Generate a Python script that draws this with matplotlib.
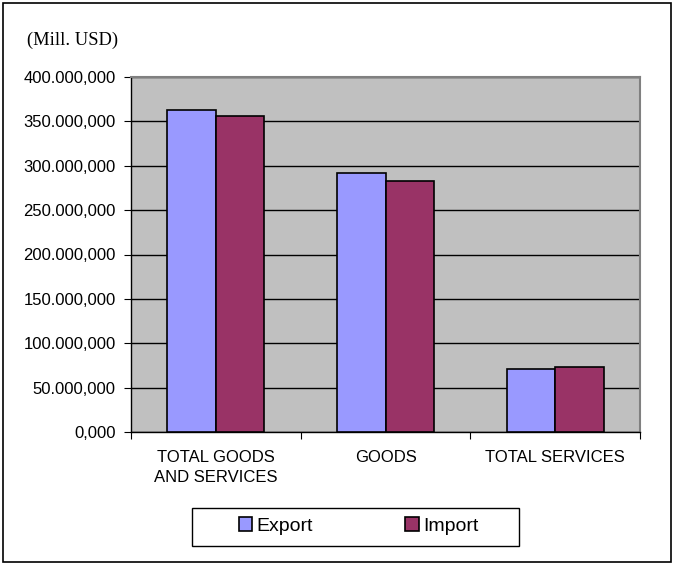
import matplotlib
matplotlib.use("Agg")
import matplotlib.pyplot as plt
import numpy as np
from matplotlib.patches import Rectangle

categories = ["TOTAL GOODS\nAND SERVICES", "GOODS", "TOTAL SERVICES"]
export_vals = [362.8e6, 291.5e6, 70.6e6]
import_vals = [356.4e6, 282.8e6, 72.9e6]
y_ticks = [0, 50e6, 100e6, 150e6, 200e6, 250e6, 300e6, 350e6, 400e6]
y_tick_labels = ["0,000", "50.000,000", "100.000,000", "150.000,000", "200.000,000",
                 "250.000,000", "300.000,000", "350.000,000", "400.000,000"]

plt.rcParams['font.family'] = ['Liberation Sans', 'DejaVu Sans']

W, H = 676, 565
fig = plt.figure(figsize=(W/100, H/100), dpi=100)
ax = fig.add_axes([131/W, 1-432/H, (640-131)/W, (432-77)/H])
ax.set_facecolor("#c0c0c0")

x = np.arange(len(categories))
bw = 1/3.5
ax.bar(x - bw/2, export_vals, bw, color="#9999ff", edgecolor="black", linewidth=1.2, label="Export", zorder=3)
ax.bar(x + bw/2, import_vals, bw, color="#993366", edgecolor="black", linewidth=1.2, label="Import", zorder=3)

ax.set_xlim(-0.5, 2.5)
ax.set_ylim(0, 400e6)
ax.set_yticks(y_ticks)
ax.set_yticklabels(y_tick_labels, fontsize=12)
ax.yaxis.grid(True, color="black", linewidth=1, zorder=1)
ax.set_axisbelow(True)

ax.set_xticks([-0.5, 0.5, 1.5, 2.5])
ax.set_xticklabels([])
ax.set_xticks(x, minor=True)
ax.set_xticklabels(categories, minor=True, fontsize=12, linespacing=1.45)
ax.tick_params(axis='x', which='minor', length=0, pad=13)
ax.tick_params(axis='x', which='major', length=5, direction='out', color="black")
ax.tick_params(axis='y', length=5, direction='out', pad=6)

for s in ['top', 'right']:
    ax.spines[s].set_color("#808080")
    ax.spines[s].set_linewidth(1.5)
for s in ['left', 'bottom']:
    ax.spines[s].set_color("black")
    ax.spines[s].set_linewidth(1)

fig.text(27/W, 1-40/H, "(Mill. USD)", family="Liberation Serif", fontsize=13.3, va="center", ha="left")

leg = ax.legend(loc="center", bbox_to_anchor=(358.5/W, 1-526/H), bbox_transform=fig.transFigure,
                ncol=2, frameon=False, fontsize=14,
                handlelength=0.7, handleheight=0.7, handletextpad=0.2, columnspacing=4.77,
                borderpad=0.0)
for h in leg.legend_handles:
    h.set_linewidth(1.2)

fig.patches.append(Rectangle((192/W, 1-546/H), (519-192)/W, (546-508)/H, transform=fig.transFigure,
                             fill=False, edgecolor="black", linewidth=1))

fig.patches.append(Rectangle((3/W, 3/H), (671-3)/W, (562-3)/H, transform=fig.transFigure,
                             fill=False, edgecolor="black", linewidth=1.2))

fig.savefig("out.png", dpi=100)
